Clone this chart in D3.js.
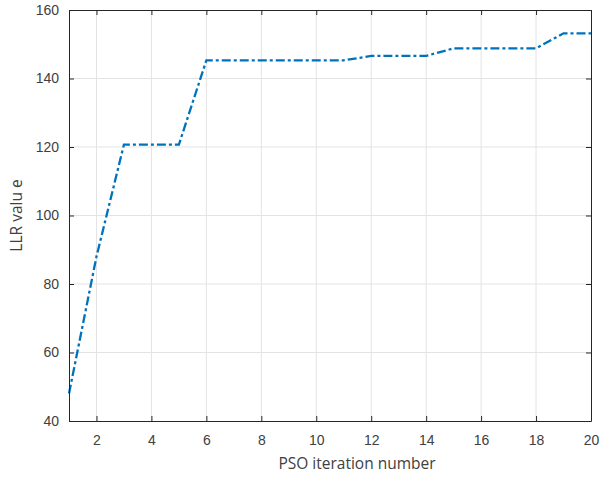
<!DOCTYPE html>
<html>
<head>
<meta charset="utf-8">
<script src="https://cdn.jsdelivr.net/npm/d3@7"></script>
<style>
  body { margin: 0; background: #fff; }
  svg { display: block; font-family: "Open Sans", "Noto Sans", sans-serif; }
  .tick text { fill: #404040; font-size: 14px; }
</style>
</head>
<body>
<div id="chart"></div>
<script>
// PSO iterations and best LLR value per iteration
const iterations = d3.range(1, 21);
const llrValues = [48, 88, 120.7, 120.7, 120.7, 145.3, 145.3, 145.3, 145.3, 145.3,
                   145.3, 146.6, 146.6, 146.6, 148.8, 148.8, 148.8, 148.8, 153.2, 153.2];
const xTicks = [2, 4, 6, 8, 10, 12, 14, 16, 18, 20];
const yTicks = [40, 60, 80, 100, 120, 140, 160];

const width = 600, height = 477;
const margin = { top: 10, right: 9, bottom: 56, left: 69 };
const innerWidth = width - margin.left - margin.right;
const innerHeight = height - margin.top - margin.bottom;

const svg = d3.select("#chart").append("svg")
  .attr("width", width)
  .attr("height", height);

const g = svg.append("g")
  .attr("transform", `translate(${margin.left},${margin.top})`);

const x = d3.scaleLinear().domain([1, 20]).range([0, innerWidth]);
const y = d3.scaleLinear().domain([40, 160]).range([innerHeight, 0]);

// grid
g.append("g")
  .selectAll("line")
  .data(xTicks.filter(d => d < 20))
  .enter().append("line")
  .attr("x1", d => x(d)).attr("x2", d => x(d))
  .attr("y1", 0).attr("y2", innerHeight)
  .attr("stroke", "#e3e3e3").attr("stroke-width", 1);

g.append("g")
  .selectAll("line")
  .data(yTicks.filter(d => d > 40 && d < 160))
  .enter().append("line")
  .attr("x1", 0).attr("x2", innerWidth)
  .attr("y1", d => y(d)).attr("y2", d => y(d))
  .attr("stroke", "#e3e3e3").attr("stroke-width", 1);

// line
const line = d3.line()
  .x((d, i) => x(iterations[i]))
  .y(d => y(d));

g.append("path")
  .datum(llrValues)
  .attr("fill", "none")
  .attr("stroke", "#0072BD")
  .attr("stroke-width", 2.3)
  .attr("stroke-dasharray", "9,3,3,3")
  .attr("d", line);

// axes (box with inward ticks)
const axisColor = "#262626";
const tickLen = 5;

g.append("g")
  .attr("transform", `translate(0,${innerHeight})`)
  .call(d3.axisBottom(x).tickValues(xTicks).tickSizeInner(-tickLen).tickSizeOuter(0).tickPadding(14));

g.append("g")
  .call(d3.axisLeft(y).tickValues(yTicks).tickSizeInner(-tickLen).tickSizeOuter(0).tickPadding(10));

// top and right edges of the box, ticks only
const topAxis = g.append("g")
  .call(d3.axisTop(x).tickValues(xTicks).tickSizeInner(-tickLen).tickSizeOuter(0));
topAxis.selectAll("text").remove();

const rightAxis = g.append("g")
  .attr("transform", `translate(${innerWidth},0)`)
  .call(d3.axisRight(y).tickValues(yTicks).tickSizeInner(-tickLen).tickSizeOuter(0));
rightAxis.selectAll("text").remove();

g.selectAll(".domain").attr("stroke", axisColor);
g.selectAll(".tick line").attr("stroke", axisColor);

// axis labels
g.append("text")
  .attr("x", 357 - margin.left)
  .attr("y", innerHeight + 48)
  .attr("text-anchor", "middle")
  .attr("fill", "#404040")
  .attr("font-size", 15.5)
  .text("PSO iteration number");

g.append("text")
  .attr("transform", "rotate(-90)")
  .attr("x", -innerHeight / 2)
  .attr("y", -47)
  .attr("text-anchor", "middle")
  .attr("fill", "#404040")
  .attr("font-size", 15.5)
  .text("LLR valu e");
</script>
</body>
</html>
